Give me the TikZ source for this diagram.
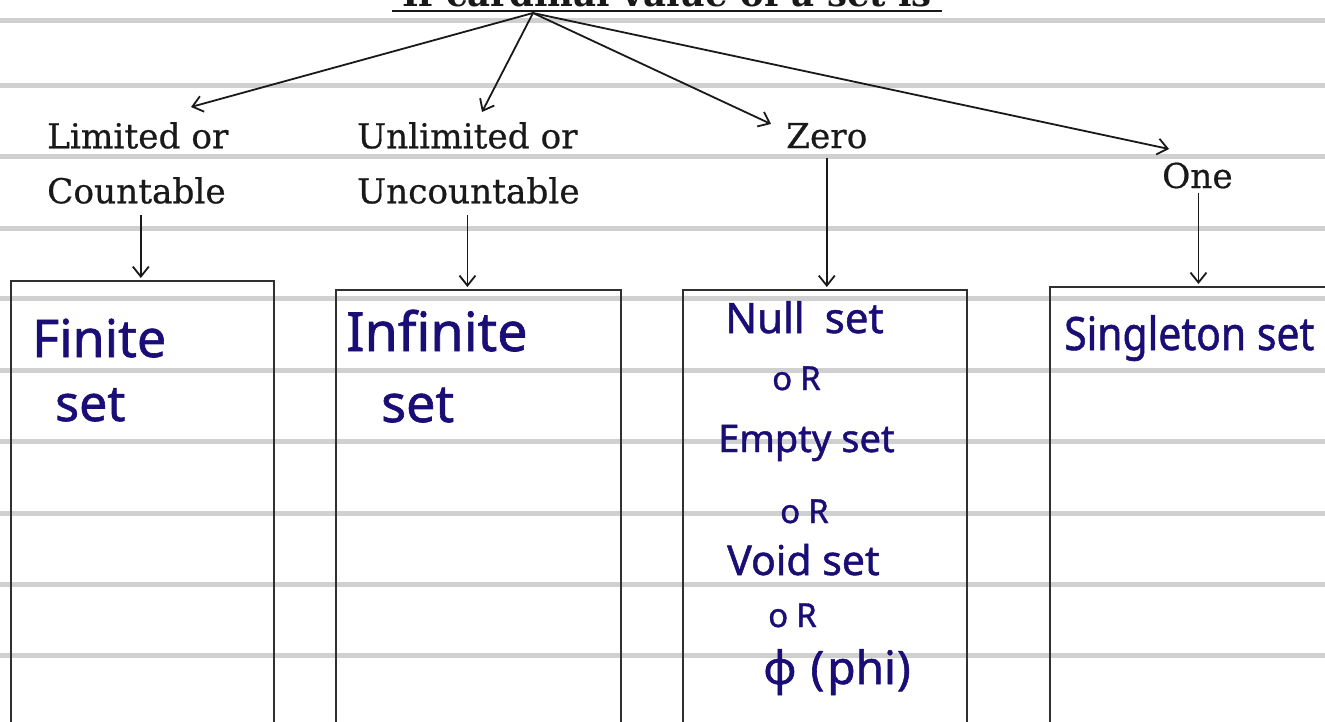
\documentclass[tikz,border=0pt]{standalone}
\usepackage{fontspec}
\usetikzlibrary{arrows.meta}
\newfontfamily\labelfont[FakeBold=0.6]{DejaVu Serif}
\newfontfamily\titlefont{DejaVu Serif}
\newfontfamily\handfont[FakeBold=1.2]{Noto Sans}
\definecolor{rulegray}{RGB}{208,208,208}
\definecolor{ink}{RGB}{26,14,118}
\definecolor{pen}{RGB}{25,25,25}
\tikzset{
  rule/.style={draw=rulegray, line width=5pt},
  arr/.style={draw=pen, line width=1.8pt, -{Straight Barb[length=10pt,width=16pt,line width=1.8pt]}},
  setbox/.style={draw=pen!90, line width=1.8pt, fill=none, inner sep=0pt, anchor=north west},
  label/.style={font=\labelfont\fontsize{34.3}{55}\selectfont, text=pen, inner sep=0pt},
  hand/.style={text=ink, inner sep=0pt, anchor=base west},
}
\begin{document}
\begin{tikzpicture}[x=1pt, y=-1pt]
  \useasboundingbox (0,0) rectangle (1325,721);
  \clip (0,0) rectangle (1325,721);

  % ruled notebook lines
  \foreach \ry in {20,85,156,228,298,370,441,513,584,655}
    \draw[rule] (0,\ry) -- (1325,\ry);

  % heading (runs off the top edge)
  \node[font=\titlefont\bfseries\fontsize{35.5}{40}\selectfont, text=pen, inner sep=0pt, anchor=base]
    (title) at (667,6) {If cardinal value of a set is};
  \draw[pen, line width=2.6pt] ([yshift=-5pt]title.base west -| 392,0) -- ([yshift=-5pt]title.base east -| 942,0);
  \coordinate (src) at (533,13);

  % category labels
  \node[label, align=left, anchor=north west] (lim) at (47,122) {Limited or\\Countable};
  \node[label, align=left, anchor=north west] (unl) at (357,122) {Unlimited or\\Uncountable};
  \node[label, anchor=base west] (zero) at (786,148) {Zero};
  \node[label, anchor=base west] (one) at (1162,188) {One};

  % arrow tips from the heading
  \coordinate (tlim) at (191,107);
  \coordinate (tunl) at (482,112);
  \coordinate (tzero) at (771,124);
  \coordinate (tone) at (1169,149);
  \draw[arr] (src) -- (tlim);
  \draw[arr] (src) -- (tunl);
  \draw[arr] (src) -- (tzero);
  \draw[arr] (src) -- (tone);

  % boxes
  \node[setbox, minimum width=263pt, minimum height=480pt] (b1) at (10,280) {};
  \node[setbox, minimum width=285pt, minimum height=480pt] (b2) at (335,289) {};
  \node[setbox, minimum width=284pt, minimum height=480pt] (b3) at (682,289) {};
  \node[setbox, minimum width=300pt, minimum height=480pt] (b4) at (1049,286) {};

  % labels down to boxes
  \draw[arr] ([xshift=3pt,yshift=-11pt]lim.south) -- ([xshift=3pt,yshift=2pt]lim.south |- b1.north);
  \draw[arr] ([xshift=-1pt,yshift=-11pt]unl.south) -- ([xshift=-1pt,yshift=2pt]unl.south |- b2.north);
  \draw[arr] ([yshift=-10pt]zero.base) -- ([yshift=2pt]zero.base |- b3.north);
  \draw[arr] ([xshift=1pt,yshift=-5pt]one.base) -- ([xshift=1pt,yshift=2pt]one.base |- b4.north);

  % handwritten entries
  \node[hand, font=\handfont\fontsize{52}{52}\selectfont] (h1a) at (32,357) {Finite};
  \node[hand, font=\handfont\fontsize{50}{50}\selectfont] (h1b) at (55,421) {set};
  \node[hand, font=\handfont\fontsize{54}{54}\selectfont] (h2a) at (346,351) {Infinite};
  \node[hand, font=\handfont\fontsize{52}{52}\selectfont] (h2b) at (381,422) {set};
  \node[hand, font=\handfont\fontsize{42}{42}\selectfont] (h3a) at (725,333) {Null\hspace{20pt}set};
  \node[hand, font=\handfont\fontsize{33}{33}\selectfont] (h3b) at (772,390) {o\hspace{8pt}R};
  \node[hand, font=\handfont\fontsize{38}{38}\selectfont] (h3c) at (718,452) {Empty\hspace{10pt}set};
  \node[hand, font=\handfont\fontsize{33}{33}\selectfont] (h3d) at (780,523) {o\hspace{8pt}R};
  \node[hand, font=\handfont\fontsize{41}{41}\selectfont] (h3e) at (727,575) {Void set};
  \node[hand, font=\handfont\fontsize{33}{33}\selectfont] (h3f) at (768,627) {o\hspace{8pt}R};
  \node[hand, font=\handfont\fontsize{46}{46}\selectfont] (h3g) at (763,684) {ϕ\hspace{14pt}(\hspace{3pt}phi\hspace{1pt})};
  \node[hand, font=\handfont\fontsize{46}{46}\selectfont] (h4a) at (1064,350) {\scalebox{0.89}[1]{Singleton set}};
\end{tikzpicture}
\end{document}
